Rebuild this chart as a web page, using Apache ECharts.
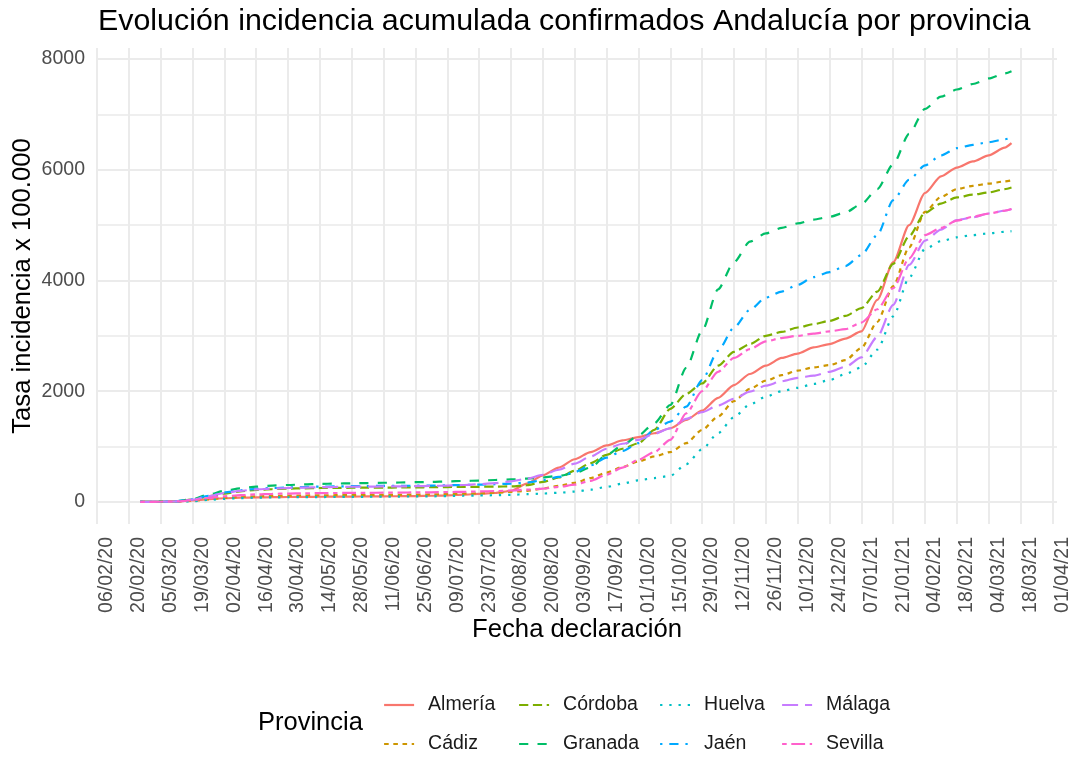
<!DOCTYPE html>
<html><head><meta charset="utf-8">
<script src="https://cdn.jsdelivr.net/npm/echarts@6/dist/echarts.min.js"></script>
<style>html,body{margin:0;padding:0;background:#fff}#c{width:1072px;height:758px}</style>
</head><body><div id="c"></div>
<script>
const dates = ['25/02/20','27/02/20','05/03/20','12/03/20','19/03/20','26/03/20','02/04/20','09/04/20','16/04/20','23/04/20','30/04/20','07/05/20','14/05/20','21/05/20','28/05/20','04/06/20','11/06/20','18/06/20','25/06/20','02/07/20','09/07/20','16/07/20','23/07/20','30/07/20','06/08/20','13/08/20','20/08/20','27/08/20','03/09/20','10/09/20','17/09/20','24/09/20','01/10/20','08/10/20','15/10/20','22/10/20','29/10/20','05/11/20','12/11/20','19/11/20','26/11/20','03/12/20','10/12/20','17/12/20','24/12/20','31/12/20','07/01/21','14/01/21','21/01/21','28/01/21','04/02/21','11/02/21','18/02/21','25/02/21','04/03/21','11/03/21','14/03/21'];

const almeria = [0,0,2,8,25,50,65,75,80,85,88,90,92,94,96,98,100,102,105,110,118,130,145,160,200,330,480,620,770,900,1020,1110,1170,1240,1330,1480,1650,1880,2110,2310,2460,2600,2680,2790,2850,2950,3080,3650,4330,5000,5580,5880,6040,6150,6260,6400,6480];
const cadiz = [0,0,1,5,20,45,70,90,100,108,112,115,118,120,122,124,126,128,130,135,140,148,155,165,180,200,240,290,345,430,530,630,730,820,900,1060,1300,1540,1820,2040,2190,2290,2370,2430,2470,2560,2780,3250,3900,4600,5240,5510,5650,5710,5750,5790,5810];
const cordoba = [0,0,2,10,40,100,150,190,215,230,240,245,250,252,255,257,258,260,262,265,268,270,272,275,280,300,360,440,560,700,850,960,1060,1300,1680,1950,2140,2460,2710,2850,3000,3070,3150,3210,3270,3360,3500,3800,4300,4800,5220,5390,5500,5550,5590,5650,5680];
const granada = [0,0,3,12,50,130,200,245,275,295,305,315,325,330,335,340,345,350,355,360,370,378,385,395,405,420,440,470,520,620,850,1020,1200,1420,1750,2420,3090,3840,4330,4700,4850,4950,5030,5100,5150,5230,5380,5650,6100,6650,7100,7320,7450,7550,7650,7740,7780];
const huelva = [0,0,0,2,12,35,55,68,75,80,83,85,87,88,90,92,94,96,98,100,105,110,115,120,128,138,150,165,185,220,270,330,390,430,470,680,950,1240,1530,1760,1900,2000,2060,2130,2200,2310,2430,2750,3350,4050,4570,4710,4780,4820,4850,4880,4890];
const jaen = [0,0,2,10,45,110,170,210,235,250,260,268,275,280,283,286,288,290,292,295,300,305,310,318,330,350,390,450,540,660,800,920,1060,1300,1450,1720,2200,2730,3150,3470,3690,3800,3920,4060,4150,4260,4460,4820,5450,5820,6080,6260,6390,6450,6500,6550,6580];
const malaga = [0,0,2,10,40,100,160,200,225,240,250,258,265,270,273,276,278,280,283,288,295,305,320,340,370,420,490,580,690,820,960,1050,1120,1230,1330,1500,1620,1740,1860,1990,2100,2180,2240,2280,2350,2440,2610,2980,3560,4280,4720,4920,5090,5140,5210,5260,5290];
const sevilla = [0,0,2,8,30,70,100,120,135,145,150,155,158,160,162,164,166,168,170,173,177,182,188,195,205,220,240,270,310,380,490,620,760,900,1120,1600,2000,2350,2600,2760,2900,2960,3000,3040,3080,3120,3240,3480,3860,4400,4820,4950,5080,5150,5210,5260,5290];

const provinces = ['Almería','Cádiz','Córdoba','Granada','Huelva','Jaén','Málaga','Sevilla'];
const seriesValues = [almeria, cadiz, cordoba, granada, huelva, jaen, malaga, sevilla];
const yTicks = [0, 2000, 4000, 6000, 8000];
const xStart = '06/02/20';

const colors = ['#F8766D','#CD9600','#7CAE00','#00BE67','#00BFC4','#00A9FF','#C77CFF','#FF61CC'];
const dashes = ['solid',[4.6,4.6],[9.2,4.6],[9.2,9.2],[2.3,6.9],[2.3,6.9,9.2,6.9],[16,6.9],[4.6,4.6,13.8,4.6]];
const FONT = '"Liberation Sans", Arial, Helvetica, sans-serif';
const DAY = 86400000;

function parseD(s){const [d,m,y]=s.split('/').map(Number);return Date.UTC(2000+y,m-1,d);}
const t0 = parseD(xStart);
function dayOf(s){return Math.round((parseD(s)-t0)/DAY);}
function fmt(v){const dt=new Date(t0+v*DAY);const p=n=>String(n).padStart(2,'0');
  return p(dt.getUTCDate())+'/'+p(dt.getUTCMonth()+1)+'/'+p(dt.getUTCFullYear()%100);}

const xs = dates.map(dayOf);
const series = provinces.map((name,i)=>({
  name, type:'line', symbol:'none', showSymbol:false, smooth:0.25, smoothMonotone:'x',
  data: xs.map((x,j)=>[x, seriesValues[i][j]]),
  lineStyle:{color:colors[i], width:2.2, type:dashes[i], cap:'butt'},
  itemStyle:{color:colors[i]},
  emphasis:{disabled:true}, z: 2+i
}));

const gridC = '#EBEBEB';
const T = 'rgba(0,0,0,0)';
const yColors = [T,T,gridC,T,T,T,T,'#EFEFEF',T,T];

const legendLeft = [378, 513, 654, 776];
const legendTop = [690, 729];
const legends = provinces.map((p,i)=>({
  orient:'horizontal', left:legendLeft[Math.floor(i/2)], top:legendTop[i%2],
  itemWidth:30, itemHeight:20, itemGap:0, data:[p], selectedMode:false,
  itemStyle:{opacity:0, borderWidth:0},
  lineStyle:{width:2.2},
  textStyle:{fontSize:19.5, color:'#1a1a1a', fontFamily:FONT, padding:[0,0,0,9], lineHeight:20}
}));

const chart = echarts.init(document.getElementById('c'), null, {renderer:'canvas'});
chart.setOption({
  animation:false,
  backgroundColor:'#fff',
  color: colors,
  title:{text:'Evolución incidencia acumulada confirmados Andalucía por provincia', left:93, top:2,
    textStyle:{fontSize:30.4, fontWeight:'normal', color:'#000', fontFamily:FONT}},
  grid:{left:97, right:15, top:48, bottom:234, containLabel:false, outerBoundsMode:'none'},
  legend: legends,
  graphic:[{type:'text', left:258, top:710, style:{text:'Provincia', fill:'#000', font:'25.5px '+FONT}}],
  xAxis:{type:'value', min:0, max:422, interval:14,
    name:'Fecha declaración', nameLocation:'middle', nameGap:93, nameMoveOverlap:false,
    nameTextStyle:{fontSize:25.7, color:'#000', fontFamily:FONT},
    axisLine:{show:false}, axisTick:{show:false},
    axisLabel:{rotate:90, margin:13, verticalAlign:'top', fontSize:19.5, color:'#4D4D4D', fontFamily:FONT,
      showMinLabel:true, showMaxLabel:true,
      formatter:v=>{const r=Math.round(v); return (Math.abs(v-r)<1e-6 && r%14===0)? fmt(r):'';}},
    splitLine:{show:true, showMaxLine:false, lineStyle:{color:gridC, width:2}}
  },
  yAxis:{type:'value', min:-400, max:8200, interval:200,
    name:'Tasa incidencia x 100.000', nameLocation:'middle', nameGap:61, nameMoveOverlap:false,
    nameTextStyle:{fontSize:25.7, color:'#000', fontFamily:FONT},
    axisLine:{show:false}, axisTick:{show:false},
    axisLabel:{margin:12, fontSize:19.5, color:'#4D4D4D', fontFamily:FONT,
      formatter:v=>{const r=Math.round(v); return yTicks.includes(r)? String(r):'';}},
    splitLine:{show:true, lineStyle:{color:yColors, width:2}}
  },
  series
});
</script></body></html>
